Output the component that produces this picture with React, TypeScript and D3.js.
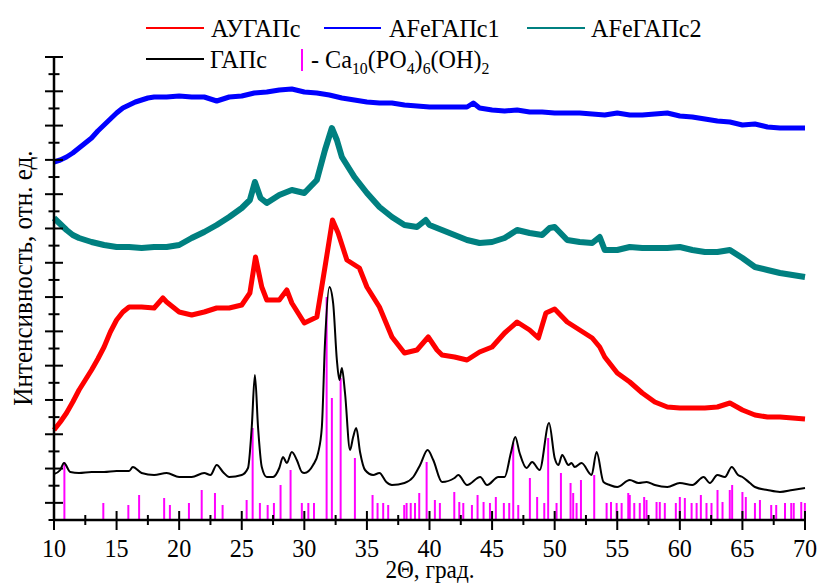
import React from "react";
import * as d3 from "d3";

type P = [number, number];

const xTicksMajor = [10, 15, 20, 25, 30, 35, 40, 45, 50, 55, 60, 65, 70];
const xTicksMinor = [12.5, 17.5, 22.5, 27.5, 32.5, 37.5, 42.5, 47.5, 52.5, 57.5, 62.5, 67.5];
const yMax = 463;
const yTickCount = 27;

const legendLabels = ["АУГАПс", "АFeГАПс1", "АFeГАПс2", "ГАПс"];
const xTitle = "2Θ, град.";
const yTitle = "Интенсивность, отн. ед.";

const blueData: P[] = [[10,358],[10.5,360],[11,363],[11.5,367],[12,372],[12.5,377],[13,382],[13.5,389],[14,395],[14.5,401],[15,407],[15.5,412],[16,415],[16.5,418],[17,420],[17.5,422],[18,423],[19,423],[20,424],[21,423],[22,423],[23,419],[24,423],[25,424],[26,427],[27,428],[28,430],[29,431],[30,428],[31,427],[32,425],[33,422],[34,420],[35,418],[36,417],[37,417],[38,415],[39,414],[40,413],[41,413],[42,413],[43,413],[43.5,417],[44,412],[45,410],[46,409],[47,410],[48,408],[49,408],[50,407],[51,407],[52,407],[53,406],[54,405],[55,407],[56,405],[57,405],[58,406],[59,407],[60,404],[61,403],[62,401],[63,399],[64,398],[65,395],[66,396],[67,393],[68,392],[69,392],[70,392]];

const tealData: P[] = [[10,302],[10.5,296],[11,290],[11.5,285],[12,282],[13,278],[14,275],[15,273],[16,273],[17,272],[18,273],[19,273],[20,275],[21,282],[22,288],[23,295],[24,303],[25,312],[25.65,320],[26.05,338],[26.5,322],[27,317],[28,325],[29,330],[30,327],[31,340],[31.65,370],[32.2,392],[32.6,380],[33,363],[34,343],[35,327],[36,313],[37,303],[38,295],[39,293],[39.7,300],[40,295],[41,290],[42,285],[43,280],[44,277],[45,278],[46,282],[47,290],[48,287],[49,285],[49.6,292],[50,293],[51,280],[52,278],[53,277],[53.6,283],[54,270],[55,270],[56,273],[57,272],[58,272],[59,272],[60,273],[61,270],[62,268],[63,268],[64,270],[65,262],[66,253],[67,250],[68,247],[69,245],[70,243]];

const redData: P[] = [[10,90],[10.5,98],[11,107],[11.5,118],[12,130],[12.5,140],[13,150],[13.5,161],[14,173],[14.5,188],[15,200],[15.5,208],[16,213],[17,213],[18,212],[18.7,222],[19,218],[20,208],[21,205],[22,208],[23,212],[24,212],[25,215],[25.65,227],[26.1,263],[26.6,233],[27,220],[28,220],[28.6,230],[29,217],[30,197],[31,203],[31.65,253],[32.25,300],[32.7,287],[33.4,260],[34.4,252],[35,233],[36,213],[37,183],[38,167],[39,170],[39.9,183],[40.6,170],[41,165],[42,163],[43,160],[44,168],[45,173],[46,187],[47,198],[48,190],[48.7,182],[49.3,207],[50,211],[51,198],[52,190],[53,182],[53.6,173],[54,163],[55,147],[56,138],[57,127],[58,118],[59,113],[60,112],[61,112],[62,112],[63,113],[64,117],[65,110],[66,105],[67,103],[68,103],[69,102],[70,101]];

const blackData: P[] = [[10,46],[10.5,50],[10.8,57],[11.3,48],[12,47],[13,48],[14,48],[15,49],[16,49],[16.3,53],[17,47],[18,45],[19,47],[20,43],[21,43],[22,47],[22.5,45],[23,55],[23.5,48],[24,43],[25,45],[25.5,52],[25.8,93],[26.05,145],[26.3,93],[26.6,53],[27,43],[27.5,43],[28,52],[28.3,63],[28.6,57],[29,68],[29.4,60],[29.8,48],[30,47],[30.7,55],[31.1,67],[31.4,93],[31.65,177],[32.0,233],[32.3,217],[32.6,160],[32.8,140],[33.0,152],[33.25,127],[33.65,70],[33.9,83],[34.15,92],[34.45,68],[34.85,50],[35.5,45],[36,47],[36.55,38],[37,35],[38,37],[38.7,43],[39.25,55],[39.85,70],[40.3,60],[41,38],[42,42],[42.3,45],[43,35],[44.05,43],[44.6,35],[45.5,43],[46,43],[46.5,67],[46.85,83],[47.2,67],[47.75,52],[48.2,58],[48.8,50],[49.55,97],[50,62],[50.3,55],[50.6,65],[51.1,55],[51.35,57],[51.6,53],[52.15,57],[52.95,45],[53.35,68],[53.9,38],[54.4,35],[55,33],[56,40],[56.7,37],[57.35,38],[58,35],[59,33],[60,37],[61,35],[61.9,43],[62.4,37],[63,45],[63.6,43],[64.15,53],[64.65,45],[65,43],[65.6,37],[66,33],[67,30],[68,28],[69,30],[70,32]];

const sticks: P[] = [[10.83,58],[13.94,17],[15.94,15],[16.8,25],[18.8,22],[19.26,15],[20.78,17],[21.8,30],[22.86,27],[23.47,15],[25.39,20],[25.87,92],[26.45,17],[27.07,15],[27.57,17],[28.1,35],[28.9,50],[29.8,17],[30.32,17],[30.77,17],[31.78,223],[32.2,122],[32.9,142],[34.04,62],[35.45,25],[35.85,17],[36.3,17],[36.7,15],[37.98,15],[38.17,17],[38.5,17],[38.84,17],[39.18,27],[39.77,58],[40.43,20],[40.83,17],[41.98,28],[42.38,18],[42.7,17],[43.39,15],[43.84,25],[44.32,18],[44.83,17],[45.3,23],[45.94,17],[46.37,17],[46.69,77],[47.09,15],[48.02,42],[48.6,23],[49.17,17],[49.48,82],[50.15,17],[50.5,47],[51.27,37],[51.48,27],[51.75,17],[52.1,40],[53.16,45],[54.15,17],[54.5,18],[54.95,17],[55.35,17],[55.88,27],[56.0,25],[56.36,17],[56.8,17],[57.15,23],[57.34,20],[58.14,18],[58.4,18],[58.8,17],[59.68,17],[60.0,23],[60.4,22],[60.94,17],[61.34,17],[61.68,25],[62.13,17],[62.53,17],[63.01,30],[63.41,18],[63.99,30],[64.18,35],[65.0,28],[65.27,23],[66.0,17],[66.4,20],[67.3,15],[67.7,15],[68.4,17],[68.9,17],[69.1,17],[69.7,18],[69.99,17]];

const FONT = '"Liberation Serif", "Times New Roman", Tinos, "DejaVu Serif", serif';
const SX = 0.93;

function T({ x, y, size = 25, anchor = "start", rotate = 0, children }: any) {
  return (
    <text
      transform={`translate(${x},${y}) rotate(${rotate}) scale(${SX},1)`}
      style={{ fontFamily: FONT, fontSize: size }}
      textAnchor={anchor}
      fill="#000"
    >
      {children}
    </text>
  );
}

export default function App() {
  const W = 819, H = 583;
  const x = d3.scaleLinear().domain([10, 70]).range([54, 805]);
  const y = d3.scaleLinear().domain([0, yMax]).range([520, 57]);
  const yTicks = d3.range(0, yTickCount + 1).map((i) => (i * yMax) / yTickCount);

  const lineLin = d3.line<P>().x((d) => x(d[0])).y((d) => y(d[1]));
  const lineSmooth = d3
    .line<P>()
    .x((d) => x(d[0]))
    .y((d) => y(d[1]))
    .curve(d3.curveMonotoneX);

  const series = [
    { data: blueData, color: "#0000ff", w: 5 },
    { data: tealData, color: "#008080", w: 6 },
    { data: redData, color: "#ff0000", w: 5 },
  ];

  return (
    <svg
      width={W}
      height={H}
      style={{ position: "absolute", left: 0, top: 0, background: "#fff" }}
    >
      <rect width={W} height={H} fill="#fff" />
      {sticks.map((s, i) => (
        <line
          key={"s" + i}
          x1={x(s[0])}
          x2={x(s[0])}
          y1={y(0)}
          y2={y(s[1])}
          stroke="#ff00ff"
          strokeWidth={2}
        />
      ))}
      {series.map((s, i) => (
        <path
          key={"l" + i}
          d={lineLin(s.data) || ""}
          fill="none"
          stroke={s.color}
          strokeWidth={s.w}
          strokeLinejoin="round"
        />
      ))}
      <path
        d={lineSmooth(blackData) || ""}
        fill="none"
        stroke="#000"
        strokeWidth={2}
      />
      <line x1={54} x2={806} y1={y(0)} y2={y(0)} stroke="#000" strokeWidth={2.5} />
      <line x1={54} x2={54} y1={y(0)} y2={y(yMax)} stroke="#000" strokeWidth={2.5} />
      {xTicksMajor.map((t) => (
        <g key={"xm" + t}>
          <line x1={x(t)} x2={x(t)} y1={y(0) - 9} y2={y(0) + 10} stroke="#000" strokeWidth={2} />
          <T x={x(t)} y={557} anchor="middle" size={26}>
            {t}
          </T>
        </g>
      ))}
      {xTicksMinor.map((t) => (
        <line key={"xn" + t} x1={x(t)} x2={x(t)} y1={y(0) - 5} y2={y(0) + 5} stroke="#000" strokeWidth={2} />
      ))}
      {yTicks.map((t, i) => {
        const major = i % 2 === 1;
        const len = major ? 9 : 5.5;
        return (
          <line
            key={"yt" + i}
            x1={54 - len}
            x2={54 + len}
            y1={y(t)}
            y2={y(t)}
            stroke="#000"
            strokeWidth={2}
          />
        );
      })}
      <T x={430} y={578} anchor="middle" size={25}>
        {xTitle}
      </T>
      <T x={32} y={278} anchor="middle" size={27} rotate={-90}>
        {yTitle}
      </T>
      <line x1={146} x2={204} y1={28} y2={28} stroke="#ff0000" strokeWidth={2} />
      <T x={211} y={37} size={26}>{legendLabels[0]}</T>
      <line x1={324} x2={381} y1={28} y2={28} stroke="#0000ff" strokeWidth={2} />
      <T x={389} y={37} size={26}>{legendLabels[1]}</T>
      <line x1={527} x2={585} y1={28} y2={28} stroke="#008080" strokeWidth={2} />
      <T x={591} y={37} size={26}>{legendLabels[2]}</T>
      <line x1={146} x2={204} y1={59} y2={59} stroke="#000" strokeWidth={2} />
      <T x={210} y={68} size={26}>{legendLabels[3]}</T>
      <line x1={302} x2={302} y1={49} y2={71} stroke="#ff00ff" strokeWidth={2} />
      <T x={311} y={68} size={26}>
        - Ca<tspan style={{ fontSize: 17 }} dy={6}>10</tspan>
        <tspan dy={-6}>(PO</tspan>
        <tspan style={{ fontSize: 17 }} dy={6}>4</tspan>
        <tspan dy={-6}>)</tspan>
        <tspan style={{ fontSize: 17 }} dy={6}>6</tspan>
        <tspan dy={-6}>(OH)</tspan>
        <tspan style={{ fontSize: 17 }} dy={6}>2</tspan>
      </T>
    </svg>
  );
}
